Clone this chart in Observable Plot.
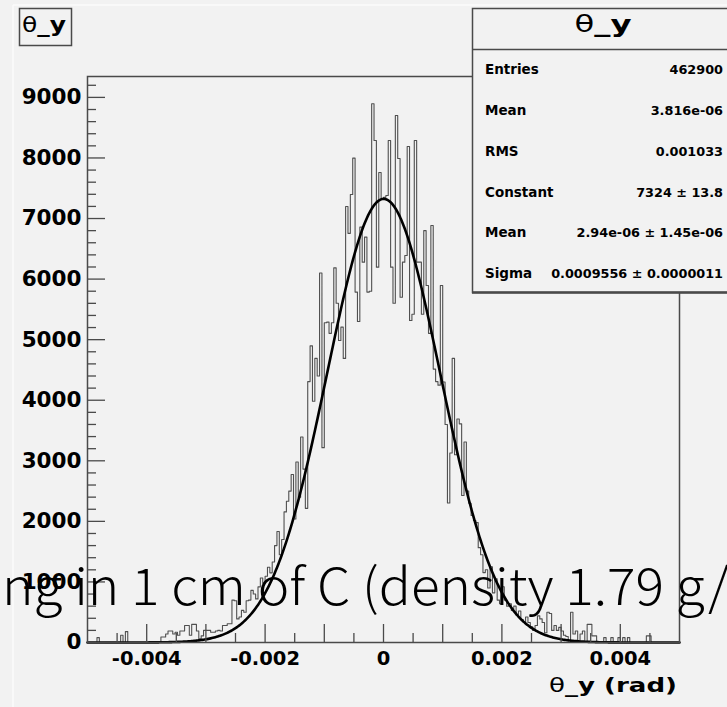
<!DOCTYPE html>
<html>
<head>
<meta charset="utf-8">
<script src="https://cdn.jsdelivr.net/npm/d3@7"></script>
<script src="https://cdn.jsdelivr.net/npm/@observablehq/plot@0.6"></script>
<style>
  html, body { margin: 0; padding: 0; background: #f2f2f2; overflow: hidden; }
  #chart { position: relative; width: 727px; height: 707px; }
  #chart svg { display: block; }
</style>
</head>
<body>
<div id="chart"></div>
<script>
// ---------------- data ----------------
const histName = "θ_y";
const xMin = -0.005, xMax = 0.005, nBins = 250;
const counts = [
  0,0,0,0,80,0,0,0,0,0,
  0,0,0,0,120,0,180,0,0,0,
  0,0,0,0,0,0,0,0,0,0,
  0,90,90,140,190,190,140,170,120,190,
  190,280,280,120,300,300,190,60,110,200,
  200,200,170,170,190,200,190,280,280,310,
  310,700,690,390,420,530,500,690,700,860,
  800,720,918,1065,980,1095,1242,1150,1330,1600,
  1832,1448,1700,2156,2333,2500,2775,2038,2981,2400,
  3394,2863,2215,4308,4897,3984,4691,4400,6100,3217,
  5280,5289,5104,5280,6186,5600,4986,5207,4691,7199,
  6755,7397,7997,5785,5300,6858,6280,6693,5785,5800,
  8894,8288,6197,7760,7325,7350,7380,8288,6197,5600,
  8700,7990,5700,6280,6390,8190,5316,5420,8288,6280,
  6280,5420,6800,5895,5104,6885,4514,4308,4249,5895,
  4300,3600,2303,3129,4691,3099,3690,3610,2426,3310,
  2500,2300,2097,2015,1979,1566,1448,1154,1200,900,
  1250,820,1050,700,640,920,700,600,640,530,
  600,450,520,380,330,420,330,260,200,280,
  440,390,330,160,500,480,200,280,200,250,
  190,120,100,0,500,140,190,0,140,190,
  0,300,300,110,110,0,0,0,80,0,
  0,80,0,0,80,0,80,0,80,0,
  0,0,0,0,0,0,110,110,0,0,
  0,0,0,0,0,0,0,0,0,0
];
const yMax = 9345;
const fitConstant = 7324, fitMean = 2.94e-06, fitSigma = 0.0009556;

const xTicksMajor = [-0.004, -0.002, 0, 0.002, 0.004];
const xTickLabels = ["-0.004", "-0.002", "0", "0.002", "0.004"];
const xTicksMid = [-0.004, -0.003, -0.002, -0.001, 0, 0.001, 0.002, 0.003, 0.004];
const xTicksMinor = [-0.0045, -0.0035, -0.0025, -0.0015, -0.0005, 0.0005, 0.0015, 0.0025, 0.0035, 0.0045];
const yTicksMajor = [0, 1000, 2000, 3000, 4000, 5000, 6000, 7000, 8000, 9000];
const yTickLabels = ["0", "1000", "2000", "3000", "4000", "5000", "6000", "7000", "8000", "9000"];
const yTicksMinor = [200,400,600,800,1200,1400,1600,1800,2200,2400,2600,2800,3200,3400,3600,3800,
  4200,4400,4600,4800,5200,5400,5600,5800,6200,6400,6600,6800,7200,7400,7600,7800,8200,8400,8600,8800,9200];
const xTitle = "θ_y (rad)";
const statLabels = ["Entries", "Mean", "RMS", "Constant", "Mean", "Sigma"];
const statValues = ["462900", "3.816e-06", "0.001033", "7324 ± 13.8", "2.94e-06 ± 1.45e-06", "0.0009556 ± 0.0000011"];
const overlayText = "ng in 1 cm of C (density 1.79 g/";

// ---------------- derived tables ----------------
const binWidth = (xMax - xMin) / nBins;
const histSteps = counts.map((c, i) => ({x: xMin + i * binWidth, y: c}));
histSteps.push({x: xMax, y: counts[nBins - 1]});
const fitPts = d3.range(0, 501).map(k => {
  const x = xMin + k * (xMax - xMin) / 500;
  return {x, y: fitConstant * Math.exp(-0.5 * ((x - fitMean) / fitSigma) ** 2)};
});

const W = 727, H = 707, mL = 87, mR = 48, mT = 76, mB = 65;
const fw = W - mL - mR, fh = H - mT - mB;
const ink = "#4a4a4a";

const plot = Plot.plot({
  width: W, height: H,
  marginLeft: mL, marginRight: mR, marginTop: mT, marginBottom: mB,
  style: {background: "#f2f2f2", fontFamily: "DejaVu Sans", overflow: "hidden"},
  x: {domain: [xMin, xMax], axis: null},
  y: {domain: [0, yMax], axis: null},
  marks: [
    Plot.line(histSteps, {x: "x", y: "y", curve: "step-after", stroke: "#505050", strokeWidth: 1.1}),
    Plot.line(fitPts, {x: "x", y: "y", stroke: "#000", strokeWidth: 2.6}),
    Plot.frame({stroke: ink, strokeWidth: 1.5}),
    Plot.tickX(xTicksMid, {x: d => d, stroke: ink, strokeWidth: 1.3, insetTop: fh - 18}),
    Plot.tickX(xTicksMinor, {x: d => d, stroke: ink, strokeWidth: 1.3, insetTop: fh - 9}),
    Plot.tickY(yTicksMajor, {y: d => d, stroke: ink, strokeWidth: 1.3, insetRight: fw - 18}),
    Plot.tickY(yTicksMinor, {y: d => d, stroke: ink, strokeWidth: 1.3, insetRight: fw - 9}),
    Plot.axisY({ticks: yTicksMajor, tickSize: 0, tickPadding: 6, label: null,
      tickFormat: d => yTickLabels[yTicksMajor.indexOf(d)],
      fontSize: 21.5, fontWeight: "bold", fill: "#000"}),
    Plot.axisX({ticks: xTicksMajor, tickSize: 0, tickPadding: 9, label: null,
      tickFormat: d => xTickLabels[xTicksMajor.indexOf(d)],
      fontSize: 19.5, fontWeight: "bold", fill: "#000"})
  ]
});
document.getElementById("chart").appendChild(plot);

// ---------------- annotations (title box, stats box, axis title, overlay) ----------------
const svg = d3.select(plot);
const ann = svg.append("g").attr("font-family", "DejaVu Sans").attr("text-anchor", "start");

// canvas highlight lines
ann.append("line").attr("x1", 13).attr("x2", 13).attr("y1", 5).attr("y2", H).attr("stroke", "#fbfbfb").attr("stroke-width", 1.5);
ann.append("line").attr("x1", 13).attr("x2", W).attr("y1", 5).attr("y2", 5).attr("stroke", "#fbfbfb").attr("stroke-width", 1.5);

// axis title
const xt = ann.append("text").attr("x", 677).attr("y", 692).attr("text-anchor", "end")
  .attr("font-size", 20).attr("font-weight", "bold").attr("fill", "#000")
  .attr("textLength", 128).attr("lengthAdjust", "spacingAndGlyphs");
xt.append("tspan").attr("font-weight", "normal").text(xTitle.slice(0, 1));
xt.append("tspan").text(xTitle.slice(1));

// title box (top-left)
ann.append("rect").attr("x", 19.5).attr("y", 8.5).attr("width", 52).attr("height", 37)
  .attr("fill", "#f2f2f2").attr("stroke", ink).attr("stroke-width", 1.5);
const tt = ann.append("text").attr("x", 22).attr("y", 32).attr("font-size", 21).attr("fill", "#000")
  .attr("textLength", 44).attr("lengthAdjust", "spacingAndGlyphs");
tt.append("tspan").text(histName.slice(0, 1));
tt.append("tspan").attr("font-weight", "bold").text(histName.slice(1));

// stats box
ann.append("rect").attr("x", 472.5).attr("y", 8.5).attr("width", 270).attr("height", 284)
  .attr("fill", "#f2f2f2").attr("stroke", ink).attr("stroke-width", 1.5);
ann.append("line").attr("x1", 472).attr("x2", W).attr("y1", 292.5).attr("y2", 292.5).attr("stroke", ink).attr("stroke-width", 2.5);
ann.append("line").attr("x1", 472).attr("x2", W).attr("y1", 49.5).attr("y2", 49.5).attr("stroke", ink).attr("stroke-width", 1.3);
const st = ann.append("text").attr("x", 603).attr("y", 32).attr("text-anchor", "middle")
  .attr("font-size", 23).attr("fill", "#000").attr("textLength", 57).attr("lengthAdjust", "spacingAndGlyphs");
st.append("tspan").text(histName.slice(0, 1));
st.append("tspan").attr("font-weight", "bold").text(histName.slice(1));
const rowY = [74, 115, 155.5, 196.5, 237, 277.5];
statLabels.forEach((lab, i) => {
  ann.append("text").attr("x", 485).attr("y", rowY[i]).attr("font-size", 13.5).attr("font-weight", "bold")
    .attr("fill", "#000").text(lab);
  ann.append("text").attr("x", 723).attr("y", rowY[i]).attr("text-anchor", "end").attr("font-size", 12.8)
    .attr("font-weight", "bold").attr("fill", "#000").text(statValues[i]);
});

// overlay caption text
ann.append("text").attr("x", 2).attr("y", 605).attr("font-family", "Noto Sans CJK JP")
  .attr("font-weight", 300)
  .attr("font-size", 51).attr("fill", "#000").attr("textLength", 727).attr("lengthAdjust", "spacingAndGlyphs")
  .text(overlayText);
</script>
</body>
</html>
